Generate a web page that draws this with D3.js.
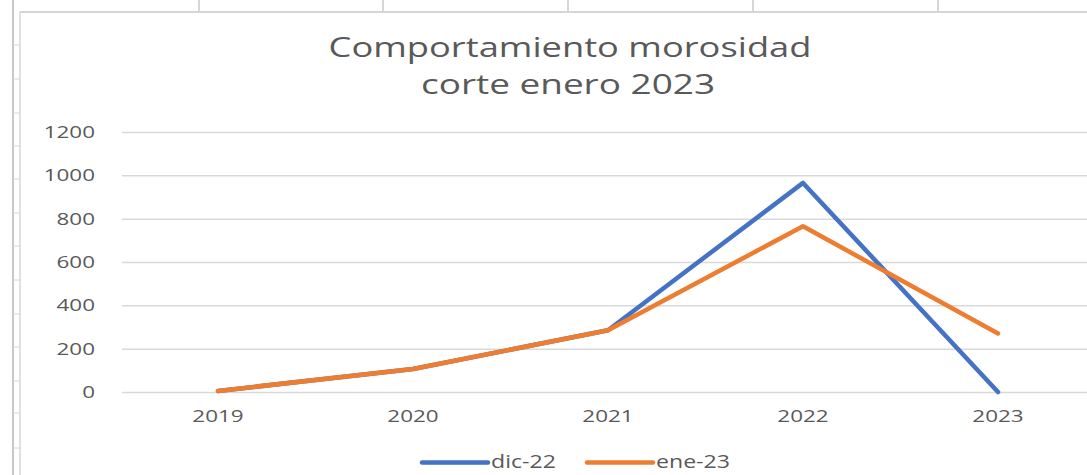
<!DOCTYPE html>
<html>
<head>
<meta charset="utf-8">
<script src="https://cdn.jsdelivr.net/npm/d3@7"></script>
<style>
  html, body { margin: 0; padding: 0; background: #fff; }
  svg { display: block; }
  text { font-family: "Open Sans", sans-serif; fill: #595959; }
</style>
</head>
<body>
<div id="chart"></div>
<script>
// data
const years = ["2019", "2020", "2021", "2022", "2023"]
const dic22 = [5, 106, 285, 965, 0]
const ene23 = [5, 106, 285, 765, 270]
const yTicks = [0, 200, 400, 600, 800, 1000, 1200]
const seriesNames = ["dic-22", "ene-23"]
const titleLines = ["Comportamiento morosidad", "corte enero 2023"]

const width = 1087
const height = 475
const colors = ["#4472C4", "#ED7D31"]
const stretch = 1.32   // the screenshot is stretched sideways

const svg = d3.select("#chart")
  .append("svg")
  .attr("width", width)
  .attr("height", height)

// spreadsheet bits behind the chart
const cellCols = [199, 383, 568, 753, 938]
const rowTicks = [45, 79, 113, 146, 179, 213, 246, 280, 314, 347, 381, 413, 448]
const sheet = svg.append("g").attr("stroke", "#d6d6d6")
sheet.selectAll(".col").data(cellCols).join("line")
  .attr("x1", d => d).attr("x2", d => d).attr("y1", 0).attr("y2", 12)
  .attr("stroke-width", 2)
sheet.append("line").attr("x1", 20).attr("x2", width).attr("y1", 12).attr("y2", 12).attr("stroke-width", 2)
sheet.append("line").attr("x1", 13).attr("x2", 13).attr("y1", 0).attr("y2", height)
  .attr("stroke", "#c8c8c8").attr("stroke-width", 2)
sheet.append("line").attr("x1", 20).attr("x2", 20).attr("y1", 12).attr("y2", height).attr("stroke-width", 1.5)
sheet.selectAll(".row").data(rowTicks).join("line")
  .attr("x1", 13).attr("x2", 20).attr("y1", d => d).attr("y2", d => d)

// scales
const x = d3.scalePoint().domain(years).range([218, 998])
const y = d3.scaleLinear().domain([0, 1200]).range([392, 132])

// gridlines
svg.append("g")
  .attr("transform", "translate(122,0)")
  .call(d3.axisRight(y).tickValues(yTicks).tickSize(width - 122).tickFormat(""))
  .call(g => g.select(".domain").remove())
  .call(g => g.selectAll("line").attr("stroke", "#d9d9d9").attr("stroke-width", 1.5))

// stretched text helper
function label(sel, tx, ty, str, size, anchor) {
  sel.append("text")
    .attr("transform", "translate(" + tx + "," + ty + ") scale(" + stretch + ",1)")
    .attr("text-anchor", anchor)
    .attr("font-size", size)
    .text(str)
}

// y labels
const yl = svg.append("g")
yTicks.forEach(v => label(yl, 95, y(v) + 6, v, 17, "end"))

// x labels
const xl = svg.append("g")
years.forEach(v => label(xl, x(v), 422, v, 17, "middle"))

// title
label(svg, 570, 57, titleLines[0], 27.5, "middle")
label(svg, 568, 94, titleLines[1], 28, "middle")

// lines
const line = d3.line().x((d, i) => x(years[i])).y(d => y(d))
;[dic22, ene23].forEach((s, i) => {
  svg.append("path")
    .datum(s)
    .attr("d", line)
    .attr("fill", "none")
    .attr("stroke", colors[i])
    .attr("stroke-width", 4.5)
    .attr("stroke-linejoin", "round")
    .attr("stroke-linecap", "round")
})

// legend
const legendX = [422, 587]
seriesNames.forEach((n, i) => {
  svg.append("line")
    .attr("x1", legendX[i]).attr("x2", legendX[i] + 66)
    .attr("y1", 462.5).attr("y2", 462.5)
    .attr("stroke", colors[i]).attr("stroke-width", 4.5).attr("stroke-linecap", "round")
  label(svg, legendX[i] + 69, 468, n, 17.5, "start")
})
</script>
</body>
</html>
